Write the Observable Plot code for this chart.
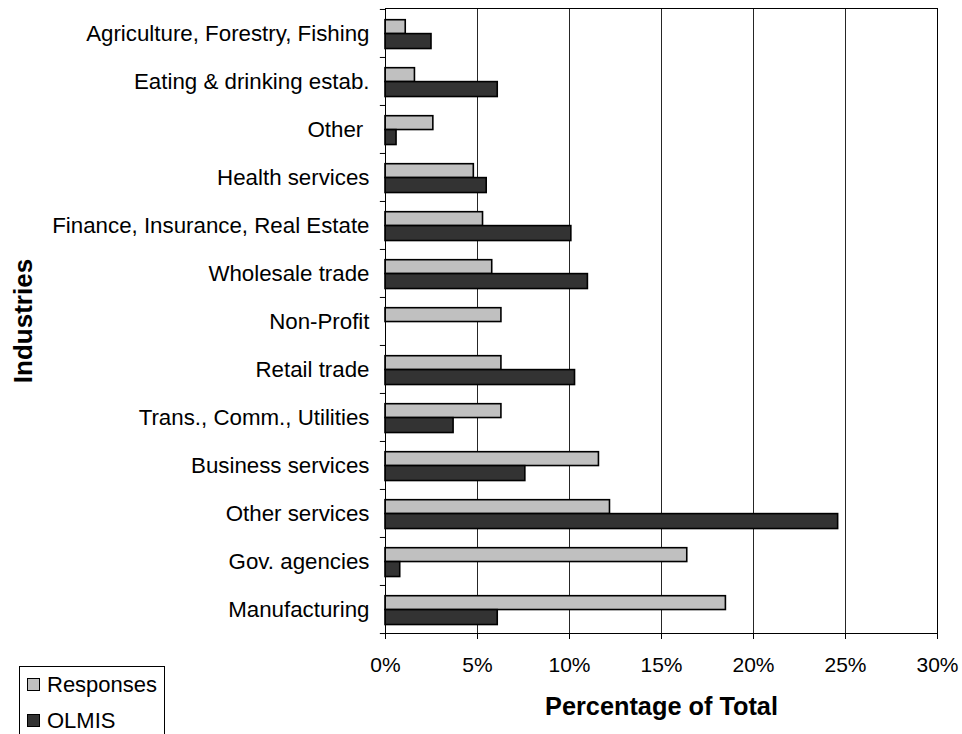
<!DOCTYPE html>
<html>
<head>
<meta charset="utf-8">
<script src="https://cdn.jsdelivr.net/npm/d3@7"></script>
<script src="https://cdn.jsdelivr.net/npm/@observablehq/plot@0.6"></script>
<style>
  html, body { margin: 0; padding: 0; background: #fff; overflow: hidden; }
  #wrap { position: relative; width: 962px; height: 734px; font-family: "Liberation Sans", Arial, sans-serif; }
  #legend { position: absolute; left: 19px; top: 666px; width: 144px; height: 80px; border: 1px solid #000; background: #fff; }
  .item { position: absolute; left: 7px; font-size: 22px; line-height: 22px; color: #000; white-space: nowrap; }
  .sw { display: inline-block; width: 11px; height: 11px; border: 1px solid #000; margin-right: 7px; vertical-align: 1px; }
</style>
</head>
<body>
<div id="wrap"></div>
<script>
const industries = [
  "Agriculture, Forestry, Fishing",
  "Eating & drinking estab.",
  "Other\u00a0",
  "Health services",
  "Finance, Insurance, Real Estate",
  "Wholesale trade",
  "Non-Profit",
  "Retail trade",
  "Trans., Comm., Utilities",
  "Business services",
  "Other services",
  "Gov. agencies",
  "Manufacturing"
];
const responses = [1.1, 1.6, 2.6, 4.8, 5.3, 5.8, 6.3, 6.3, 6.3, 11.6, 12.2, 16.4, 18.5];
const olmis = [2.5, 6.1, 0.6, 5.5, 10.1, 11.0, null, 10.3, 3.7, 7.6, 24.6, 0.8, 6.1];
const seriesNames = ["Responses", "OLMIS"];
const seriesColors = ["#c0c0c0", "#333333"];
const xTicks = [0, 5, 10, 15, 20, 25, 30];

const respData = industries.map((k, i) => ({industry: k, value: responses[i]}));
const olmisData = industries.map((k, i) => ({industry: k, value: olmis[i]})).filter(d => d.value != null);

const H = 734, mt = 8, mb = 101;
const bw = (H - mt - mb) / industries.length;

const chart = Plot.plot({
  width: 962,
  height: H,
  marginLeft: 385,
  marginRight: 25,
  marginTop: mt,
  marginBottom: mb,
  style: {fontFamily: "'Liberation Sans', Arial, sans-serif", color: "#000", background: "#fff"},
  x: {domain: [0, 30]},
  y: {domain: industries, padding: 0},
  marks: [
    Plot.gridX(xTicks, {stroke: "#000", strokeOpacity: 0.85, strokeWidth: 1}),
    Plot.barX(respData, {x: "value", y: "industry", fill: seriesColors[0], stroke: "#000", strokeWidth: 1.6, insetTop: 10.7, insetBottom: bw - 24.6}),
    Plot.barX(olmisData, {x: "value", y: "industry", fill: seriesColors[1], stroke: "#000", strokeWidth: 1.6, insetTop: 24.6, insetBottom: bw - 39.6}),
    Plot.frame({stroke: "#000", strokeWidth: 1}),
    Plot.ruleY(industries, {y: d => d, x1: -0.28, x2: 0, dy: -bw / 2, stroke: "#000"}),
    Plot.ruleY(industries.slice(-1), {y: d => d, x1: -0.28, x2: 0, dy: bw / 2, stroke: "#000"}),
    Plot.axisX(xTicks, {tickSize: 6, tickPadding: 18, fontSize: 21, tickFormat: d => d + "%", label: null}),
    Plot.axisY({tickSize: 0, tickPadding: 16, fontSize: 22.3, label: null}),
    Plot.text(["Percentage of Total"], {frameAnchor: "bottom", dy: 73, fontSize: 25.3, fontWeight: "bold", textAnchor: "middle", lineAnchor: "middle"}),
    Plot.text(["Industries"], {frameAnchor: "left", dx: -362, rotate: -90, fontSize: 26, fontWeight: "bold", textAnchor: "middle", lineAnchor: "middle"})
  ]
});

const wrap = document.getElementById("wrap");
wrap.appendChild(chart);

const legend = document.createElement("div");
legend.id = "legend";
seriesNames.forEach((name, i) => {
  const it = document.createElement("div");
  it.className = "item";
  it.style.top = (i === 0 ? 7 : 43) + "px";
  const sw = document.createElement("span");
  sw.className = "sw";
  sw.style.background = seriesColors[i];
  it.appendChild(sw);
  it.appendChild(document.createTextNode(name));
  legend.appendChild(it);
});
wrap.appendChild(legend);
</script>
</body>
</html>
